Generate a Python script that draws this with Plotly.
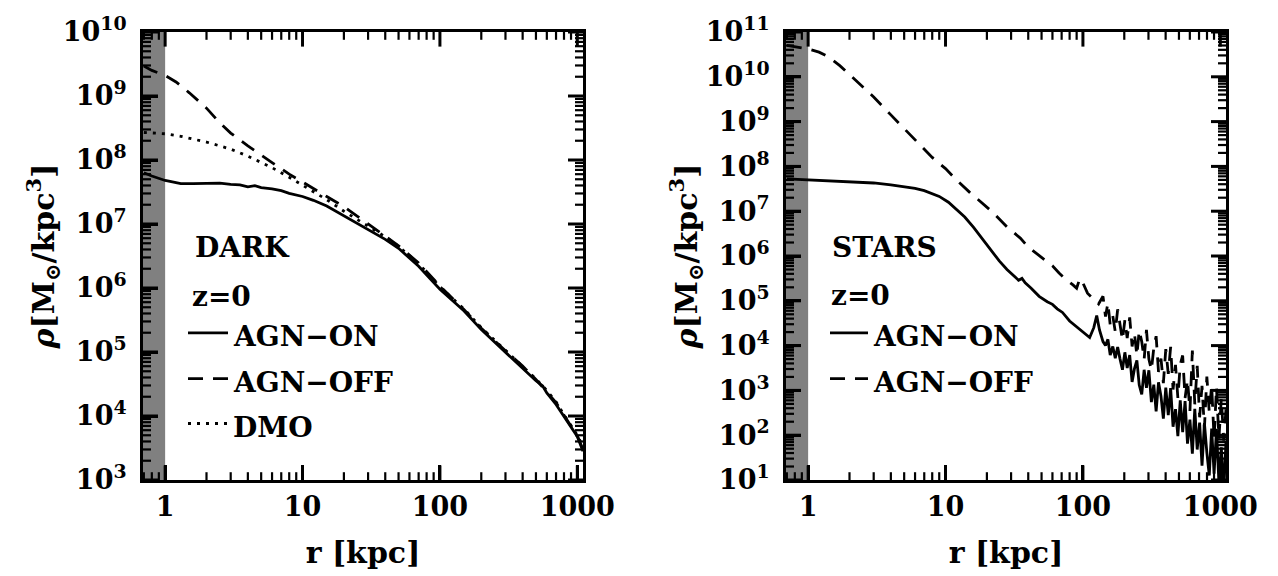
import numpy as np
import plotly.graph_objects as go

# ---------------- data: dark matter density profiles (log10 rho) ----------------
r_dark_on = [0.7, 0.8, 1.0, 1.3, 1.6, 2.0, 2.5, 3.0, 3.5, 4.0, 4.5, 5.0, 6.0, 7.0, 8.0,
             10, 12, 15, 20, 25, 30, 40, 50, 70, 100, 150, 200, 300, 400, 500, 560,
             600, 700, 800, 900, 1000, 1100]
lg_dark_on = [7.80, 7.75, 7.68, 7.63, 7.63, 7.63, 7.64, 7.62, 7.61, 7.58, 7.60, 7.57, 7.55,
              7.52, 7.48, 7.43, 7.37, 7.28, 7.13, 7.01, 6.91, 6.76, 6.62, 6.34, 5.98, 5.64,
              5.35, 5.00, 4.75, 4.55, 4.47, 4.36, 4.18, 3.99, 3.83, 3.68, 3.45]

r_dark_off = [0.7, 0.8, 1.0, 1.2, 1.5, 2.0, 2.5, 3.0, 4.0, 5.0, 6.0, 8.0, 10, 12, 15, 20,
              30, 40, 50, 70, 100, 150, 200, 300, 400, 500, 600, 700, 800, 900, 1000, 1100]
lg_dark_off = [9.47, 9.40, 9.32, 9.22, 9.05, 8.81, 8.58, 8.42, 8.22, 8.07, 7.96, 7.78, 7.66,
               7.56, 7.43, 7.27, 7.00, 6.80, 6.66, 6.39, 6.03, 5.66, 5.37, 5.02, 4.78, 4.57,
               4.38, 4.21, 4.01, 3.85, 3.69, 3.48]

r_dmo = [0.7, 0.85, 1.0, 1.3, 1.7, 2.0, 2.5, 3.0, 4.0, 5.0, 6.0, 8.0, 10, 12, 15, 20, 30,
         40, 50, 70, 100, 150, 200, 300, 400, 500, 600, 700, 800, 900, 1000, 1100]
lg_dmo = [8.43, 8.42, 8.41, 8.37, 8.32, 8.28, 8.22, 8.17, 8.06, 7.96, 7.88, 7.73, 7.61, 7.50,
          7.38, 7.20, 6.97, 6.80, 6.65, 6.38, 6.02, 5.67, 5.38, 5.03, 4.78, 4.58, 4.40, 4.22,
          4.02, 3.86, 3.70, 3.52]

# ---------------- data: stellar density profiles (log10 rho) ----------------
r_star_on = [0.7, 1.0, 1.5, 2.0, 3.0, 4.0, 5.0, 6.0, 7.0, 8.0, 9.0, 10.5, 12, 13.8, 16, 18.3,
             21, 24.6, 28, 32, 34, 36, 38, 42, 48, 55, 60, 65, 71, 80, 90, 100, 112, 120,
             126, 132, 140,
             146, 152, 158, 165, 172, 179, 186, 194, 202, 210, 219, 228, 237, 247, 257,
             268, 279, 290, 302, 315, 328, 341, 355, 370, 385, 401, 418, 435, 453, 472,
             491, 511, 532, 554, 577, 601, 626, 652, 679, 707, 736, 766, 798, 831, 865,
             901, 938, 977, 1017, 1059, 1100]
lg_star_on = [7.72, 7.70, 7.68, 7.66, 7.63, 7.59, 7.55, 7.51, 7.46, 7.40, 7.33, 7.20, 7.03,
              6.87, 6.64, 6.41, 6.15, 5.89, 5.70, 5.54, 5.46, 5.50, 5.40, 5.28, 5.10, 4.98,
              4.92, 4.82, 4.74, 4.55, 4.42, 4.30, 4.18, 4.40, 4.67, 4.35, 4.09,
              4.00, 4.14, 3.79, 3.98, 3.72, 3.97, 3.71, 3.46, 3.85, 3.50, 3.79, 3.19, 3.48,
              3.67, 3.12, 2.91, 3.46, 3.06, 3.45, 2.74, 3.13, 2.53, 3.18, 2.87, 2.37, 3.06,
              2.45, 3.05, 2.19, 2.58, 1.98, 2.78, 2.07, 2.76, 1.81, 2.35, 1.59, 2.59, 1.68,
              2.28, 1.32, 2.27, 1.61, 1.10, 2.15, 1.14, 2.14, 0.93, 1.73, 0.72, 1.87]

r_star_off = [0.7, 0.85, 1.0, 1.2, 1.4, 1.7, 2.0, 2.5, 3.0, 4.0, 5.0, 6.0, 8.0, 10, 12, 15,
              18, 22, 28, 35, 40, 50, 60, 67, 75, 85, 90, 95, 100, 108, 120, 130, 140,
              146, 152, 158, 165, 172, 179, 186, 194, 202, 210, 219, 228, 237, 247, 257,
              268, 279, 290, 302, 315, 328, 341, 355, 370, 385, 401, 418, 435, 453, 472,
              491, 511, 532, 554, 577, 601, 626, 652, 679, 707, 736, 766, 798, 831, 865,
              901, 938, 977, 1017, 1059, 1100]
lg_star_off = [10.70, 10.66, 10.62, 10.55, 10.45, 10.25, 10.05, 9.78, 9.55, 9.15, 8.85,
               8.60, 8.20, 7.95, 7.70, 7.42, 7.22, 6.98, 6.65, 6.40, 6.20, 5.98, 5.78, 5.62,
               5.48, 5.35, 5.28, 5.50, 5.40, 5.17, 5.02, 4.93, 5.10,
               4.65, 4.95, 4.46, 4.66, 4.31, 4.81, 4.42, 4.12, 4.57, 4.17, 4.63, 3.98, 4.28,
               3.78, 4.34, 4.09, 3.69, 4.35, 3.70, 3.45, 3.95, 4.21, 3.41, 3.71, 3.16, 3.92,
               3.37, 3.97, 3.02, 3.57, 2.83, 3.58, 3.78, 2.83, 3.24, 2.54, 3.89, 2.69, 3.55,
               2.40, 3.10, 2.15, 3.31, 2.51, 3.11, 1.92, 3.07, 1.92, 2.82, 1.88, 2.58]

x_tickvals = [1, 10, 100, 1000]
x_ticktext = ["1", "10", "100", "1000"]
dark_exponents = list(range(3, 11))
star_exponents = list(range(1, 12))

FONT = "DejaVu Serif"
BLACK = "#000000"
SHADE = "#808080"
R_MIN, R_MAX = 0.69, 1100.0
X_RANGE = [np.log10(R_MIN), np.log10(R_MAX)]

# page geometry: plot area spans x 143..1226 px, y 22..482 px
W, H = 1278, 576
M_L, M_R, M_T, M_B = 143, 52, 22, 94
AREA_W = W - M_L - M_R
AREA_H = H - M_T - M_B
PANEL_W = 440
LEFT_DOM = [0, PANEL_W / AREA_W]
RIGHT_DOM = [(786 - M_L) / AREA_W, 1]

DASH = "15px,10px"
DOT = "3px,6px"
MAJOR_LEN, MINOR_LEN = 15, 8

fig = go.Figure()


def add_curve(r, lg, dash, xa, ya):
    fig.add_trace(go.Scatter(
        x=r, y=[10 ** v for v in lg], mode="lines",
        line=dict(color=BLACK, width=2.8, dash=dash),
        xaxis=xa, yaxis=ya, showlegend=False, hoverinfo="skip"))


add_curve(r_dark_on, lg_dark_on, "solid", "x", "y")
add_curve(r_dark_off, lg_dark_off, DASH, "x", "y")
add_curve(r_dmo, lg_dmo, DOT, "x", "y")
add_curve(r_star_on, lg_star_on, "solid", "x2", "y2")
add_curve(r_star_off, lg_star_off, DASH, "x2", "y2")


def power_labels(exps):
    return [10.0 ** e for e in exps], ["<b>10<sup>%d</sup></b>" % e for e in exps]


def minor_vals(lo, hi, vmin, vmax):
    # 2..9 times each power of ten, kept inside the axis range
    vals = [m * 10.0 ** e for e in range(lo, hi) for m in range(2, 10)]
    return [v for v in vals if vmin <= v <= vmax]


TICKFONT = dict(family=FONT, size=27, color=BLACK)
TITLEFONT = dict(family=FONT, size=30, color=BLACK)

axis_common = dict(
    type="log", showgrid=False, zeroline=False,
    showline=True, linecolor=BLACK, linewidth=3, mirror=True,
    ticks="inside", ticklen=MAJOR_LEN, tickwidth=3, tickcolor=BLACK,
    tickmode="array", tickfont=TICKFONT,
)

dark_vals, dark_text = power_labels(dark_exponents)
star_vals, star_text = power_labels(star_exponents)
RHO_TITLE = "<b><i>ρ</i>[M<sub>⊙</sub>/kpc<sup>3</sup>]</b>"
R_TITLE = "<b>r [kpc]</b>"
x_text_b = ["<b>%s</b>" % t for t in x_ticktext]

fig.update_layout(
    width=W, height=H, margin=dict(l=M_L, r=M_R, t=M_T, b=M_B),
    paper_bgcolor="white", plot_bgcolor="white",
    font=dict(family=FONT, color=BLACK),
    xaxis=dict(axis_common, domain=LEFT_DOM, anchor="y", range=X_RANGE,
               tickvals=x_tickvals, ticktext=x_text_b, ticklabelstandoff=1,
               title=dict(text=R_TITLE, font=TITLEFONT, standoff=21)),
    yaxis=dict(axis_common, domain=[0, 1], anchor="x", range=[3, 10],
               tickvals=dark_vals, ticktext=dark_text, ticklabelstandoff=8,
               title=dict(text=RHO_TITLE, font=TITLEFONT, standoff=0)),
    xaxis2=dict(axis_common, domain=RIGHT_DOM, anchor="y2", range=X_RANGE,
                tickvals=x_tickvals, ticktext=x_text_b, ticklabelstandoff=1,
                title=dict(text=R_TITLE, font=TITLEFONT, standoff=21)),
    yaxis2=dict(axis_common, domain=[0, 1], anchor="x2", range=[1, 11],
                tickvals=star_vals, ticktext=star_text, ticklabelstandoff=8,
                title=dict(text=RHO_TITLE, font=TITLEFONT, standoff=0)),
)

# grey band marking the unresolved inner region (r < 1 kpc)
for xa, ya in (("x", "y"), ("x2", "y2")):
    fig.add_shape(type="rect", xref=xa, yref=ya + " domain",
                  x0=R_MIN * 0.9, x1=1.0, y0=0, y1=1,
                  fillcolor=SHADE, line=dict(width=0), layer="below")


def tick_marks(xa, ya, xmaj, xmin, ymaj, ymin):
    """Inward tick marks on all four sides of a panel."""
    for vals, length, width in ((xmaj, MAJOR_LEN, 3), (xmin, MINOR_LEN, 2.2)):
        f = length / AREA_H
        for v in vals:
            for y0, y1 in ((0, f), (1, 1 - f)):
                fig.add_shape(type="line", xref=xa, yref=ya + " domain",
                              x0=v, x1=v, y0=y0, y1=y1,
                              line=dict(color=BLACK, width=width))
    for vals, length, width in ((ymaj, MAJOR_LEN, 3), (ymin, MINOR_LEN, 2.2)):
        f = length / PANEL_W
        for v in vals:
            for x0, x1 in ((0, f), (1, 1 - f)):
                fig.add_shape(type="line", xref=xa + " domain", yref=ya,
                              x0=x0, x1=x1, y0=v, y1=v,
                              line=dict(color=BLACK, width=width))


x_minor = minor_vals(-1, 4, R_MIN, R_MAX)
tick_marks("x", "y", x_tickvals, x_minor, dark_vals, minor_vals(3, 10, 1e3, 1e10))
tick_marks("x2", "y2", x_tickvals, x_minor, star_vals, minor_vals(1, 11, 1e1, 1e11))


def px_x(p):
    return (p - M_L) / AREA_W


def px_y(p):
    return 1 - (p - M_T) / AREA_H


def label(text, x_px, y_px, size=28):
    fig.add_annotation(text="<b>%s</b>" % text, xref="paper", yref="paper",
                       x=px_x(x_px), y=px_y(y_px), xanchor="left", yanchor="middle",
                       showarrow=False, font=dict(family=FONT, size=size, color=BLACK))


def key_line(x0_px, x1_px, y_px, dash):
    fig.add_shape(type="line", xref="paper", yref="paper",
                  x0=px_x(x0_px), x1=px_x(x1_px), y0=px_y(y_px), y1=px_y(y_px),
                  line=dict(color=BLACK, width=2.8, dash=dash))


# left panel key
label("DARK", 193, 243)
label("z=0", 190, 294)
key_line(188, 228, 331, "solid")
label("AGN−ON", 231, 335)
key_line(188, 228, 378, DASH)
label("AGN−OFF", 231, 382)
key_line(188, 228, 424, DOT)
label("DMO", 231, 428)

# right panel key
label("STARS", 830, 243)
label("z=0", 829, 293)
key_line(830, 868, 331, "solid")
label("AGN−ON", 871, 335)
key_line(830, 868, 378, DASH)
label("AGN−OFF", 871, 382)

fig.write_html("out.html")
